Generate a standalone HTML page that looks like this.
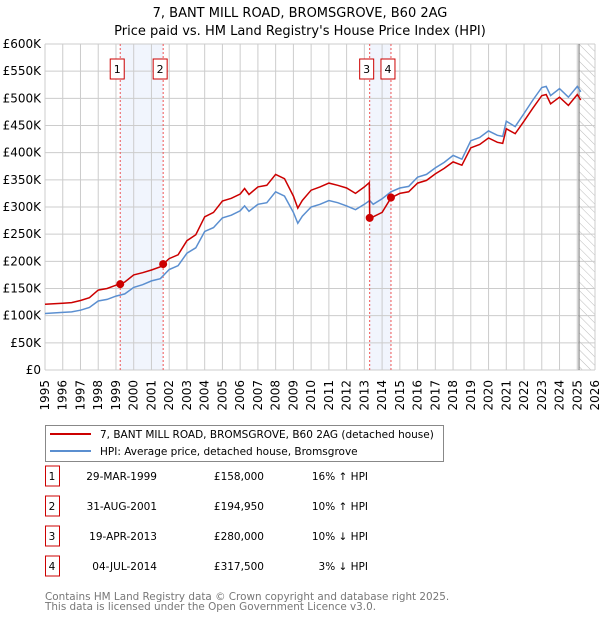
<!DOCTYPE html>
<html><head><meta charset="utf-8"><style>
body{margin:0;background:#fff;font-family:"DejaVu Sans","Liberation Sans",sans-serif;}
svg text{font-family:"DejaVu Sans","Liberation Sans",sans-serif;}
</style></head><body>
<svg id="c" width="600" height="620" viewBox="0 0 600 620" xmlns="http://www.w3.org/2000/svg">
<defs><pattern id="hatch" width="6" height="6" patternUnits="userSpaceOnUse" patternTransform="rotate(-45)"><line x1="0" y1="0" x2="0" y2="6" stroke="#bbb" stroke-width="1"/></pattern></defs>
<text x="300" y="17" text-anchor="middle" font-size="13">7, BANT MILL ROAD, BROMSGROVE, B60 2AG</text>
<text x="300" y="35" text-anchor="middle" font-size="13">Price paid vs. HM Land Registry's House Price Index (HPI)</text>
<g id="plot"></g>
<g>
<rect x="45.5" y="425.5" width="398" height="36" fill="#fff" stroke="#888"/>
<line x1="50" y1="434" x2="91" y2="434" stroke="#cc0000" stroke-width="2"/>
<text x="100" y="438" font-size="10.5">7, BANT MILL ROAD, BROMSGROVE, B60 2AG (detached house)</text>
<line x1="50" y1="451" x2="91" y2="451" stroke="#5b8fd0" stroke-width="2"/>
<text x="100" y="455" font-size="10.5">HPI: Average price, detached house, Bromsgrove</text>
</g>
<g id="table" font-size="10.5"></g>
<text x="45" y="600" font-size="10.4" fill="#777">Contains HM Land Registry data © Crown copyright and database right 2025.</text>
<text x="45" y="610" font-size="10.4" fill="#777">This data is licensed under the Open Government Licence v3.0.</text>
</svg>
<script>
const hpiYears=[1995,1996,1996.5,1997,1997.5,1998,1998.5,1999,1999.5,2000,2000.5,2001,2001.5,2002,2002.5,2003,2003.5,2004,2004.5,2005,2005.5,2006,2006.25,2006.5,2007,2007.5,2008,2008.5,2009,2009.25,2009.5,2010,2010.5,2011,2011.5,2012,2012.5,2013,2013.3,2013.5,2014,2014.5,2015,2015.5,2016,2016.5,2017,2017.5,2018,2018.5,2019,2019.5,2020,2020.5,2020.8,2021,2021.5,2022,2022.5,2023,2023.25,2023.5,2024,2024.5,2025,2025.2];
const hpiValues=[104,106,107,110,115,127,130,136,140,152,157,164,168,185,192,215,225,255,262,280,285,293,302,292,305,308,328,320,290,270,283,300,305,312,308,302,295,305,312,305,315,328,335,338,355,360,372,382,395,388,422,428,440,432,430,458,448,472,497,520,522,505,518,502,522,512];
const propYears=[1995,1996,1996.5,1997,1997.5,1998,1998.5,1999,1999.24,1999.5,2000,2000.5,2001,2001.5,2001.66,2002,2002.5,2003,2003.5,2004,2004.5,2005,2005.5,2006,2006.25,2006.5,2007,2007.5,2008,2008.5,2009,2009.25,2009.5,2010,2010.5,2011,2011.5,2012,2012.5,2013,2013.28,2013.3,2013.5,2014,2014.5,2015,2015.5,2016,2016.5,2017,2017.5,2018,2018.5,2019,2019.5,2020,2020.5,2020.8,2021,2021.5,2022,2022.5,2023,2023.25,2023.5,2024,2024.5,2025,2025.2];
const propValues=[121,123,124,128,133,147,150,156,158,162,175,179,184,190,195,205,212,238,249,282,290,311,316,324,334,323,337,340,360,352,320,298,312,331,337,344,340,335,325,337,345,280,282,290,317,325,328,344,349,361,371,383,377,409,415,427,419,417,444,435,458,482,505,507,490,502,487,507,497];
const saleYears=[1999.24,2001.66,2013.3,2014.5];
const saleValues=[158,194.95,280,317.5];
const saleLabels=["1","2","3","4"];
const saleDates=["29-MAR-1999","31-AUG-2001","19-APR-2013","04-JUL-2014"];
const salePrices=["£158,000","£194,950","£280,000","£317,500"];
const saleHpi=["16% ↑ HPI","10% ↑ HPI","10% ↓ HPI","3% ↓ HPI"];
const yTicks=[0,50,100,150,200,250,300,350,400,450,500,550,600];
const yTickLabels=["£0","£50K","£100K","£150K","£200K","£250K","£300K","£350K","£400K","£450K","£500K","£550K","£600K"];
const xTicks=[1995,1996,1997,1998,1999,2000,2001,2002,2003,2004,2005,2006,2007,2008,2009,2010,2011,2012,2013,2014,2015,2016,2017,2018,2019,2020,2021,2022,2023,2024,2025,2026];

const X0=45,X1=595,Y0=370,Y1=44,NS="http://www.w3.org/2000/svg";
const sx=v=>X0+(v-1995)/(2026-1995)*(X1-X0);
const sy=v=>Y0-v/600*(Y0-Y1);
const plot=document.getElementById('plot');
function mk(tag,attrs,parent){const e=document.createElementNS(NS,tag);for(const k in attrs)e.setAttribute(k,attrs[k]);(parent||plot).appendChild(e);return e;}
[[0,1],[2,3]].forEach(p=>{const r=mk('rect',{x:sx(saleYears[p[0]]),y:Y1,width:sx(saleYears[p[1]])-sx(saleYears[p[0]]),height:Y0-Y1,fill:'#f1f5fd'});

});
const h=mk('rect',{x:sx(2025.1),y:Y1,width:X1-sx(2025.1),height:Y0-Y1,fill:'url(#hatch)'});


xTicks.forEach(t=>{const l=mk('line',{x1:sx(t),x2:sx(t),y1:Y1,y2:Y0,stroke:'#ccc','stroke-width':1});


const tx=mk('text',{x:0,y:0,'font-size':12,'text-anchor':'end',transform:`translate(${sx(t)+4},380) rotate(-90)`});tx.textContent=t;

});
yTicks.forEach((t,i)=>{const l=mk('line',{x1:X0,x2:X1,y1:sy(t),y2:sy(t),stroke:'#ccc','stroke-width':1});


const tx=mk('text',{x:41,y:sy(t)+4,'font-size':12,'text-anchor':'end'});tx.textContent=yTickLabels[i];

});
const vl=mk('line',{x1:sx(2025.1),x2:sx(2025.1),y1:Y1,y2:Y0,stroke:'#888','stroke-width':1.2});


saleYears.forEach((y,i)=>{const l=mk('line',{x1:sx(y),x2:sx(y),y1:Y1,y2:Y0,stroke:'#e55','stroke-width':1,'stroke-dasharray':'2,2'});


const r=mk('rect',{x:sx(y)-10,y:59,width:14,height:20,fill:'#fff',stroke:'#cc0000'});


const t=mk('text',{x:sx(y)-3,y:73,'font-size':11,'text-anchor':'middle'});t.textContent=saleLabels[i];

});
const hp=mk('path',{d:hpiYears.map((y,i)=>(i?'L':'M')+sx(y).toFixed(1)+','+sy(hpiValues[i]).toFixed(1)).join(''),fill:'none',stroke:'#5b8fd0','stroke-width':1.5});


const pp=mk('path',{d:propYears.map((y,i)=>(i?'L':'M')+sx(y).toFixed(1)+','+sy(propValues[i]).toFixed(1)).join(''),fill:'none',stroke:'#cc0000','stroke-width':1.5});


saleYears.forEach((y,i)=>{const c=mk('circle',{cx:sx(y),cy:sy(saleValues[i]),r:4,fill:'#cc0000'});

});
const tb=document.getElementById('table');
saleLabels.forEach((s,i)=>{const y0=476+i*30;
const r=mk('rect',{x:45.5,y:y0-10,width:14,height:20,fill:'#fff',stroke:'#cc0000'},tb);


[[s,52,'middle'],[saleDates[i],157,'end'],[salePrices[i],264,'end'],[saleHpi[i],368,'end']].forEach(c=>{
const t=mk('text',{x:c[1],y:y0+4,'text-anchor':c[2]},tb);t.textContent=c[0];

});});
</script>
</body></html>
